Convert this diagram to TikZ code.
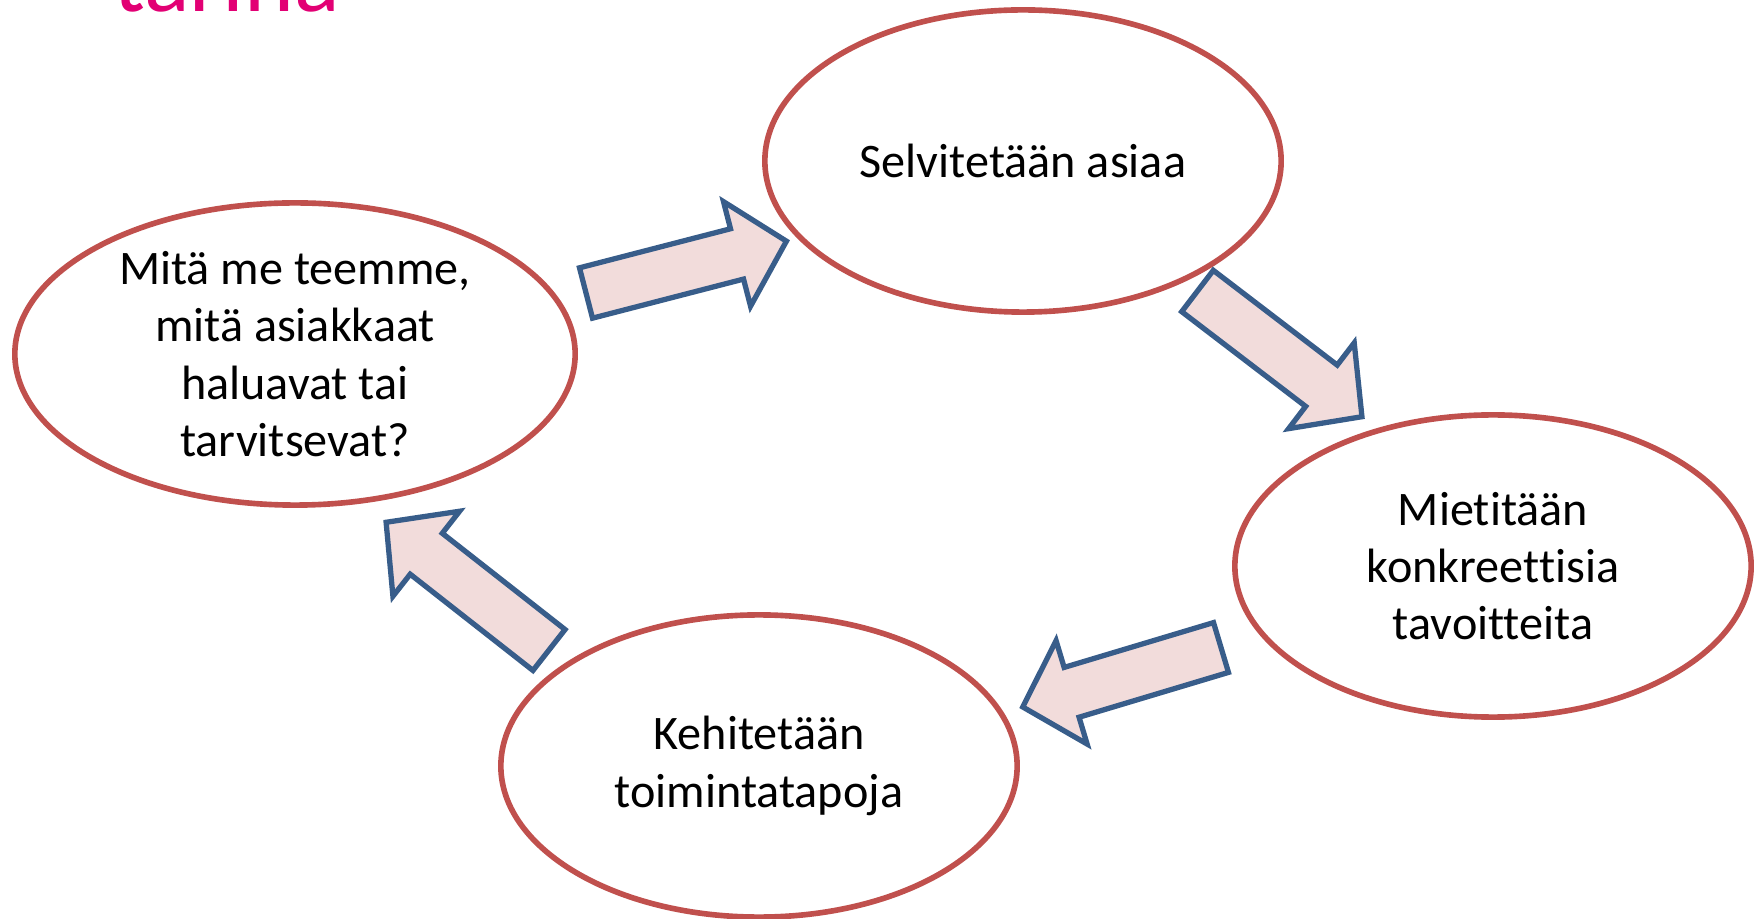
\documentclass[tikz,border=0pt]{standalone}
\usepackage{fontspec}
\setmainfont[Ligatures=NoCommon]{Carlito}
\usetikzlibrary{shapes,positioning}
\definecolor{ovalred}{RGB}{192,80,77}
\definecolor{arrowblue}{RGB}{56,93,138}
\definecolor{arrowfill}{RGB}{242,220,219}
\definecolor{titlepink}{RGB}{226,0,116}

\begin{document}
\begin{tikzpicture}[x=0.01cm,y=0.01cm,
    phase node/.style={ellipse,draw=ovalred,line width=1.6pt,minimum width=5.16cm,minimum height=3.02cm},
    phase text/.style={align=center,inner sep=0pt,font=\fontsize{13.7}{16.3}\selectfont},
    flow arrow/.pic={\draw[draw=arrowblue,fill=arrowfill,line width=1.5pt]
      (0,26) -- (156,26) -- (156,54) -- (207,0) -- (156,-54) -- (156,-26) -- (0,-26) -- cycle;}]

    \useasboundingbox (0,0) rectangle (1758,918);
    \clip (0,0) rectangle (1758,918);

    % title, cut off at the top
    \node[anchor=base west,inner sep=0pt,text=titlepink,font=\fontsize{27}{32}\selectfont] (title) at (113,906) {tarina};

    \node[phase node,minimum width=5.6cm] (ask) at (295,564) {};
    \node[phase node] (find) at (1023,757) {};
    \node[phase node] (goals) at (1493,352) {};
    \node[phase node] (develop) at (759,152) {};

    \node[phase text] (askText) at (ask) {Mitä me teemme,\\mitä asiakkaat\\haluavat tai\\tarvitsevat?};
    \node[phase text] (findText) at (find) {Selvitetään asiaa};
    \node[phase text] (goalsText) at (goals) {Mietitään\\konkreettisia\\tavoitteita};
    \node[phase text] (developText) at (develop) {Kehitetään\\toimintatapoja};

    % block arrows round the cycle
    \path (586,625) pic[rotate=14.5] {flow arrow};
    \path (1197.5,627) pic[rotate=-37.4] {flow arrow};
    \path (1221,270.5) pic[rotate=196.7] {flow arrow};
    \path (549,268) pic[rotate=141.9] {flow arrow};
  \end{tikzpicture}
\end{document}
